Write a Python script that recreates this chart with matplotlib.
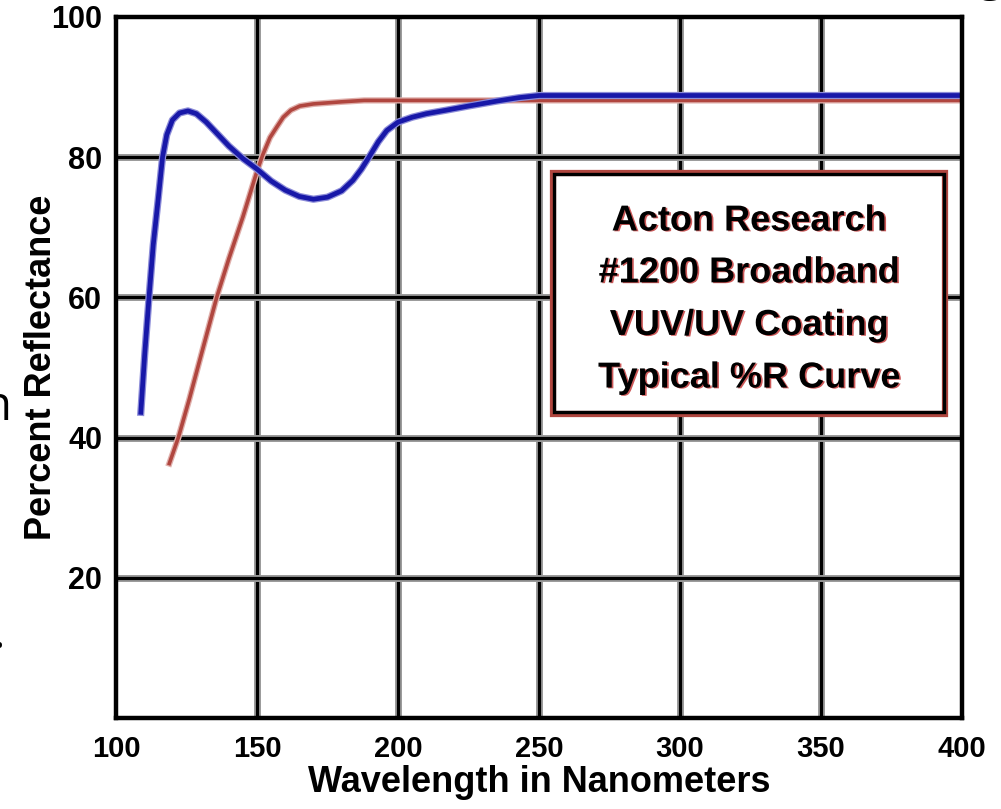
import matplotlib
matplotlib.use("Agg")
import matplotlib.pyplot as plt
import matplotlib.patheffects as pe
from matplotlib.patches import Rectangle

# ---- data ----
blue_x = [108.8, 110.2, 111.7, 113.2, 114.9, 116.5, 118.0, 120.0, 122.5, 125.5,
          128.5, 132.0, 136.0, 140.0, 145.0, 150.0, 155.0, 160.0, 165.0, 170.0,
          175.0, 180.0, 184.0, 187.0, 190.0, 193.0, 196.0, 200.0, 205.0, 210.0,
          217.0, 225.0, 235.0, 243.0, 250.0, 300.0, 350.0, 400.0]
blue_y = [43.6, 52.0, 60.0, 67.5, 73.8, 80.0, 83.2, 85.3, 86.3, 86.6,
          86.2, 85.0, 83.3, 81.6, 79.8, 78.3, 76.6, 75.3, 74.4, 74.0,
          74.3, 75.2, 76.7, 78.3, 80.2, 82.2, 83.8, 85.0, 85.7, 86.2,
          86.7, 87.3, 88.0, 88.5, 88.8, 88.8, 88.8, 88.8]

red_x = [118.9, 122.1, 126.0, 130.0, 135.7, 140.0, 145.0, 150.0, 152.0, 154.6,
         157.0, 159.3, 162.0, 165.2, 170.0, 180.0, 188.0, 200.0, 250.0, 300.0,
         350.0, 400.0]
red_y = [36.3, 40.0, 45.5, 51.5, 60.0, 65.5, 71.5, 78.0, 80.3, 82.8,
         84.3, 85.7, 86.7, 87.3, 87.6, 87.9, 88.1, 88.1, 88.1, 88.1,
         88.1, 88.1]

x_ticks = [100, 150, 200, 250, 300, 350, 400]
y_ticks = [20, 40, 60, 80, 100]
box_lines = ["Acton Research", "#1200 Broadband", "VUV/UV Coating", "Typical %R Curve"]

plt.rcParams['font.family'] = ['Liberation Sans', 'DejaVu Sans']

fig = plt.figure(figsize=(10.01, 8.09), dpi=100)
ax = fig.add_axes([0.1159, 0.1125, 0.8452, 0.8665])
ax.set_xlim(100, 400)
ax.set_ylim(0, 100)

halo = [pe.Stroke(linewidth=5, foreground='#9a9a9a'), pe.Normal()]

for xv in x_ticks[1:-1]:
    ax.axvline(xv, color='black', lw=2.3, zorder=1, path_effects=halo)
for yv in y_ticks[:-1]:
    ax.axhline(yv, color='black', lw=2.3, zorder=1, path_effects=halo)

ax.plot(red_x, red_y, color='#b0463f', lw=2.6, zorder=3,
        path_effects=[pe.Stroke(linewidth=4.5, foreground='#e0b0ac'), pe.Normal()])
ax.plot(blue_x, blue_y, color='#1818a8', lw=3.4, zorder=4,
        path_effects=[pe.Stroke(linewidth=5.2, foreground='#8c8cd8'), pe.Normal()])

# annotation box
ax.add_patch(Rectangle((255, 43.4), 139, 34.4, facecolor='white', edgecolor='#b0463f',
                       lw=4.5, zorder=5))
ax.add_patch(Rectangle((255.3, 43.6), 138.4, 34.0, facecolor='none', edgecolor='black',
                       lw=2.4, zorder=6))
ys = [70.9, 63.5, 56.0, 48.5]
for line, yy in zip(box_lines, ys):
    ax.text(324.5, yy, line, ha='center', va='center', fontsize=26, fontweight='bold',
            color='black', zorder=7,
            path_effects=[pe.withSimplePatchShadow(offset=(1.2, -0.6), shadow_rgbFace='#c03030', alpha=0.8)])

for s in ax.spines.values():
    s.set_linewidth(3.2)
    s.set_color('black')
    s.set_zorder(8)

ax.set_xticks(x_ticks)
ax.set_yticks(y_ticks)
ax.set_xticklabels([str(v) for v in x_ticks], fontsize=21, fontweight='bold')
ax.set_yticklabels([str(v) for v in y_ticks], fontsize=22, fontweight='bold')
ax.tick_params(axis='both', length=0)
ax.tick_params(axis='x', pad=12)
ax.tick_params(axis='y', pad=10)

ax.set_xlabel('Wavelength in Nanometers', fontsize=26, fontweight='bold', labelpad=2)
ax.set_ylabel('Percent Reflectance', fontsize=26, fontweight='bold', labelpad=-6)

# stray fragments from surrounding page
fig.text(0.012, 0.497, 'n', fontsize=34, family='Open Sans', color='black',
         ha='right', va='center')
fig.text(0.005, 0.215, '.', fontsize=34, family='Open Sans', color='black',
         ha='right', va='center')
fig.text(0.972, 1.012, 'C', fontsize=30, family='Open Sans', color='black', va='center')

fig.savefig('out.png', dpi=100)
